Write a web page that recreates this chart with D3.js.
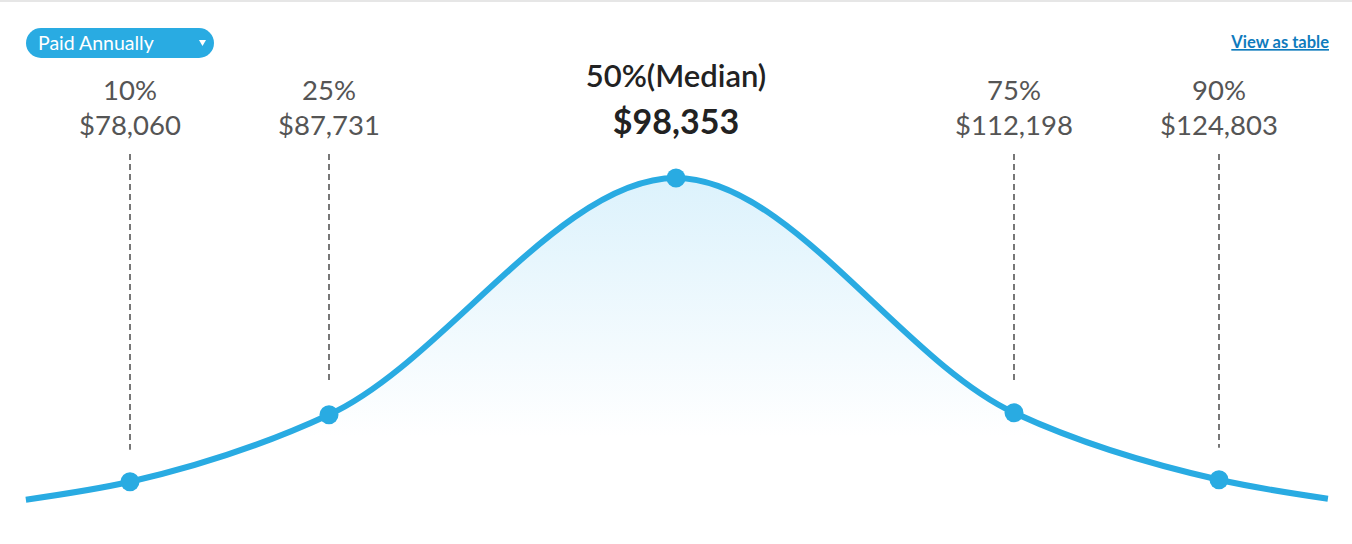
<!DOCTYPE html>
<html>
<head>
<meta charset="utf-8">
<script src="https://cdn.jsdelivr.net/npm/d3@7/dist/d3.min.js"></script>
<style>
  html, body { margin: 0; padding: 0; background: #fff; }
  svg { display: block; }
</style>
</head>
<body>
<svg id="chart" width="1352" height="544"></svg>
<script>
// ---- data ----
const percentiles = ["10%", "25%", "50%(Median)", "75%", "90%"];
const salaries = [78060, 87731, 98353, 112198, 124803];
// relative height of the distribution curve at each percentile (peak = 1)
const density = [0.085, 0.287, 1.0, 0.293, 0.091];
// curve tails (salary, relative height)
const tailSalaries = [73000, 131500];
const tailDensity = [0.031, 0.034];
const payOptions = ["Paid Annually"];
const linkText = "View as table";

// ---- layout ----
const W = 1352, H = 544;
const svg = d3.select("#chart");
const font = "'Source Sans Pro', Lato, 'Open Sans', sans-serif";
const blue = "#29abe2";

// piecewise x scale (salary -> x) and linear y scale (relative height -> y)
const x = d3.scaleLinear().domain(salaries).range([130, 329, 676, 1014, 1219]);
const y = d3.scaleLinear().domain([0, 1]).range([510, 178]);

const curvePts = [[tailSalaries[0], tailDensity[0]]]
  .concat(salaries.map((s, i) => [s, density[i]]))
  .concat([[tailSalaries[1], tailDensity[1]]]);

// top border
svg.append("rect").attr("x", 0).attr("y", 0).attr("width", W).attr("height", 2).attr("fill", "#e6e6e6");

// gradient
const defs = svg.append("defs");
const grad = defs.append("linearGradient").attr("id", "fillGrad")
  .attr("gradientUnits", "userSpaceOnUse")
  .attr("x1", 0).attr("x2", 0).attr("y1", y(1)).attr("y2", y(0.22));
grad.append("stop").attr("offset", "0%").attr("stop-color", "#dcf2fc");
grad.append("stop").attr("offset", "100%").attr("stop-color", "#ffffff");

const curve = d3.curveMonotoneX;
const area = d3.area().x(d => x(d[0])).y0(y(0)).y1(d => y(d[1])).curve(curve);
const line = d3.line().x(d => x(d[0])).y(d => y(d[1])).curve(curve);

svg.append("path").datum(curvePts).attr("d", area).attr("fill", "url(#fillGrad)");

// dashed guide lines
salaries.forEach((s, i) => {
  if (i === 2) return;
  svg.append("line")
    .attr("x1", x(s)).attr("x2", x(s))
    .attr("y1", 154).attr("y2", y(density[i]) - 32)
    .attr("stroke", "#777").attr("stroke-width", 2)
    .attr("stroke-dasharray", "6,4");
});

svg.append("path").datum(curvePts).attr("d", line)
  .attr("fill", "none").attr("stroke", blue).attr("stroke-width", 6);

svg.selectAll("circle.pt").data(salaries).enter().append("circle")
  .attr("class", "pt")
  .attr("cx", d => x(d)).attr("cy", (d, i) => y(density[i]))
  .attr("r", 9.5).attr("fill", blue);

// labels
const fmt = d3.format("$,");
salaries.forEach((s, i) => {
  const cx = x(s);
  const median = i === 2;
  svg.append("text").attr("text-anchor", "middle")
    .attr("font-family", font).attr("fill", median ? "#222" : "#555")
    .attr("x", cx).attr("y", median ? 87 : 100)
    .attr("font-size", median ? 31 : 27.5).attr("font-weight", median ? 600 : 400)
    .text(percentiles[i]);
  svg.append("text").attr("text-anchor", "middle")
    .attr("font-family", font).attr("fill", median ? "#222" : "#555")
    .attr("x", cx).attr("y", median ? 134 : 135)
    .attr("font-size", median ? 34 : 27.5).attr("font-weight", median ? 700 : 400)
    .text(fmt(s));
});

// dropdown pill
svg.append("rect").attr("x", 26).attr("y", 28).attr("width", 188).attr("height", 30)
  .attr("rx", 15).attr("fill", blue);
svg.append("text").attr("x", 38).attr("y", 49.5)
  .attr("font-family", font).attr("font-size", 19.5).attr("fill", "#fff").text(payOptions[0]);
svg.append("path").attr("d", "M199,40 L206,40 L202.5,46 Z").attr("fill", "#fff");

// link
svg.append("text").attr("x", 1329).attr("y", 48).attr("text-anchor", "end")
  .attr("font-family", font).attr("font-size", 16.5).attr("font-weight", 700)
  .attr("fill", "#0f7bbd").attr("text-decoration", "underline").text(linkText);
</script>
</body>
</html>
